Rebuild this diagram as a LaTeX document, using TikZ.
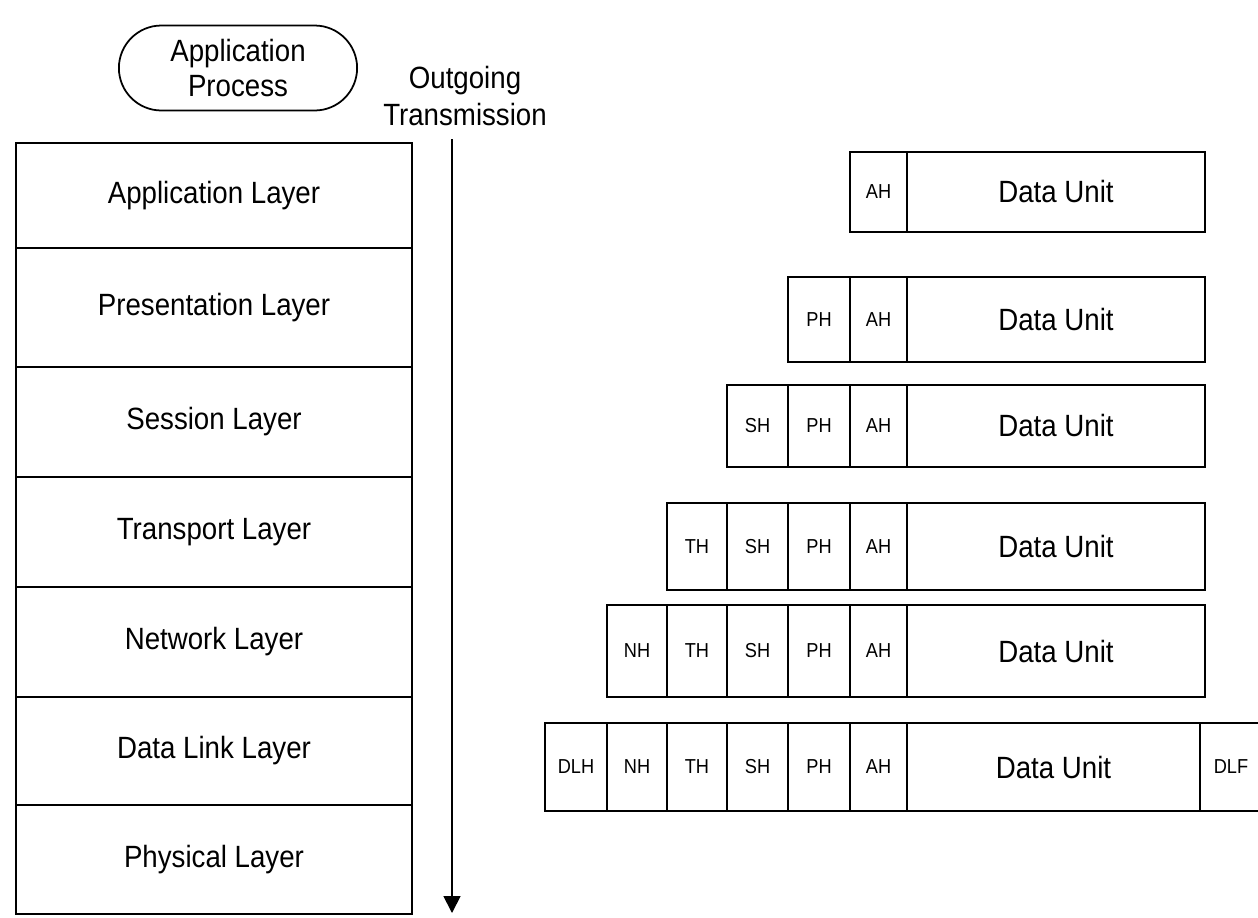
\documentclass[tikz,border=0pt]{standalone}
\usepackage{fontspec}
\setmainfont{Liberation Sans}[FakeStretch=0.9]
\usetikzlibrary{arrows.meta,shapes.misc}

\newcommand\lblfont{\fontsize{17.5}{20}\selectfont}
\newcommand\hdrfont{\fontsize{11.5}{13}\selectfont}

\begin{document}
\begin{tikzpicture}[x=0.02cm,y=-0.02cm,
   layer/.style={draw,line width=1pt,inner sep=0pt,minimum width=7.92cm,font=\lblfont},
   cell/.style={draw,line width=1pt,inner sep=0pt,font=\hdrfont},
   unit/.style={cell,font=\lblfont}]
   \useasboundingbox (0,0) rectangle (1258,917);
   % protocol stack
   \node[draw,line width=1pt,rounded rectangle,minimum width=5cm,minimum height=1.7cm,
     align=center,font=\lblfont] (proc) at (238,68) {Application\\Process};
   \foreach \name/\ya/\yb/\txt in {app/143/248/Application Layer,
      pres/248/367/Presentation Layer, sess/367/477/Session Layer,
      trans/477/587/Transport Layer, net/587/697/Network Layer,
      link/697/805/Data Link Layer, phys/805/914/Physical Layer}
     \node[layer,minimum height={(\yb-\ya)*0.02cm}] (\name) at (214,{(\ya+\yb)/2}) {\txt};
   % direction of transmission
   \node[align=center,font=\fontsize{17.5}{21.5}\selectfont] (out) at (465,96)
    {Outgoing\\Transmission};
   \coordinate (arrowend) at (452,913);
   \draw[line width=1pt,-{Triangle[width=0.34cm,length=0.34cm]},shorten <=4pt]
    (out.south -| arrowend) -- (arrowend);
   % encapsulated data units
   \foreach \r/\ya/\yb/\xr/\hdrs in {
      1/152/232/1205/{850/907/AH},
      2/277/362/1205/{788/850/PH,850/907/AH},
      3/385/467/1205/{727/788/SH,788/850/PH,850/907/AH},
      4/503/590/1205/{667/727/TH,727/788/SH,788/850/PH,850/907/AH},
      5/605/697/1205/{607/667/NH,667/727/TH,727/788/SH,788/850/PH,850/907/AH},
      6/723/811/1200/{545/607/DLH,607/667/NH,667/727/TH,727/788/SH,788/850/PH,850/907/AH}}
   {
     \foreach \xa/\xb/\lbl in \hdrs
       \node[cell,minimum width={(\xb-\xa)*0.02cm},minimum height={(\yb-\ya)*0.02cm}]
        (h\r-\lbl) at ({(\xa+\xb)/2},{(\ya+\yb)/2}) {\lbl};
     \node[unit,minimum width={(\xr-907)*0.02cm},minimum height={(\yb-\ya)*0.02cm}]
      (du\r) at ({(907+\xr)/2},{(\ya+\yb)/2}) {Data Unit};
   }
   \node[cell,line width=1.6pt,minimum width=1.24cm,minimum height=1.76cm] (dlf)
    at (1231,767) {DLF};
\end{tikzpicture}
\end{document}
